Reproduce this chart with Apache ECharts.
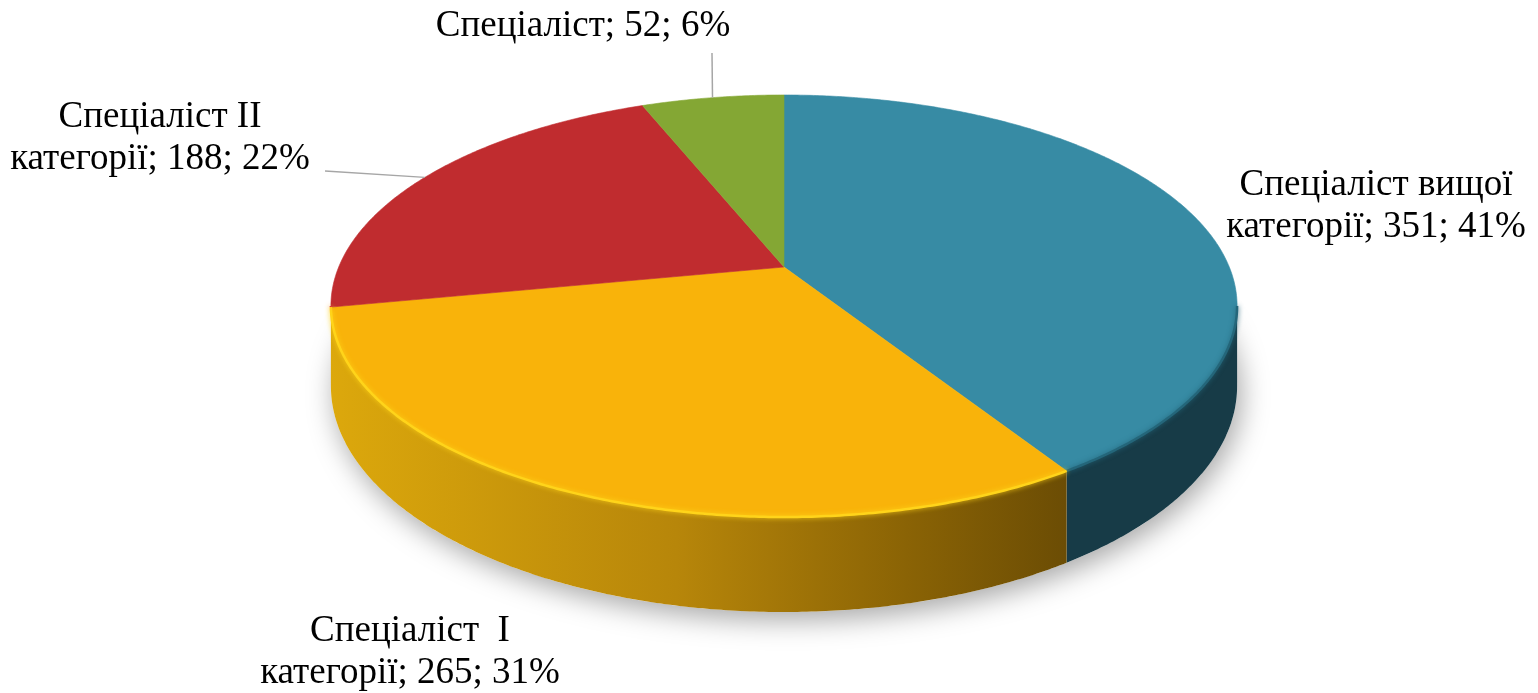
<!DOCTYPE html>
<html>
<head>
<meta charset="utf-8">
<script src="https://cdn.jsdelivr.net/npm/echarts@6/dist/echarts.min.js"></script>
<style>
  html, body { margin: 0; background: #fff; }
  #chart-container { width: 1538px; height: 693px; }
</style>
</head>
<body>
<div id="chart-container"></div>
<script>
// data
const categories = [
  'Спеціаліст вищої категорії',
  'Спеціаліст  I категорії',
  'Спеціаліст II категорії',
  'Спеціаліст'
];
const values = [351, 265, 188, 52];

// styles
const topColors = ['#378BA4', '#F9B30A', '#C02C2F', '#84A734'];
const rimColors = ['#24667A', '#FFD41A', '#D8393C', '#95BC3E'];
const sideFills = [
  '#173B47',
  {
    type: 'linear', x: 331, y: 0, x2: 1100, y2: 0, global: true,
    colorStops: [
      { offset: 0, color: '#DCA80C' },
      { offset: 0.45, color: '#B7860A' },
      { offset: 0.75, color: '#8A6305' },
      { offset: 1, color: '#654804' }
    ]
  },
  '#8E1F22',
  '#5F7A24'
];
// label centre + leader start (null = no leader)
const labelLayout = [
  { x: 1376, y: 206, lead: null },
  { x: 410, y: 652, lead: null },
  { x: 160, y: 138, lead: [325, 171] },
  { x: 583, y: 26, lead: [712, 53] }
];

// perspective pie geometry
const CX = 784, CY = 267, D = 5.41, KX = 2409, KY = 1102.6, KH = 419;
const VIS0 = Math.acos(-1 / D), VIS1 = 2 * Math.PI - VIS0;
function proj(phi, down) {
  const X = Math.sin(phi), Z = Math.cos(phi), d = D + Z;
  return [CX + KX * X / d, CY - KY * Z / d + (down ? KH / d : 0)];
}
function arc(a, b, down) {
  const pts = [];
  const n = Math.max(2, Math.ceil(Math.abs(b - a) / (Math.PI / 360)));
  for (let k = 0; k <= n; k++) pts.push(proj(a + (b - a) * k / n, down));
  return pts;
}

const total = values.reduce((s, v) => s + v, 0);
const starts = [];
values.reduce((acc, v) => { starts.push(acc); return acc + v; }, 0);

function renderSlice(params, api) {
  const i = params.dataIndex;
  const v = api.value(0);
  const a0 = starts[i] / total * 2 * Math.PI;
  const a1 = a0 + v / total * 2 * Math.PI;
  const children = [];

  if (i === 0) {
    // soft floor shadow
    children.push({
      type: 'polygon', z2: 0,
      shape: { points: arc(0, 2 * Math.PI, 1) },
      style: { fill: '#fff', shadowBlur: 28, shadowColor: 'rgba(0,0,0,0.35)', shadowOffsetX: 4, shadowOffsetY: 8 }
    });
  }

  const s = Math.max(a0, VIS0), e = Math.min(a1, VIS1);
  if (e > s) {
    const side = arc(s, e, 0).concat(arc(e, s, 1));
    children.push({ type: 'polygon', z2: 5, shape: { points: side }, style: { fill: sideFills[i] } });
  }

  children.push({
    type: 'polygon', z2: 10,
    shape: { points: [[CX, CY]].concat(arc(a0, a1, 0)) },
    style: { fill: topColors[i], stroke: topColors[i], lineWidth: 0.6 }
  });

  if (e > s) {
    children.push({
      type: 'polyline', z2: 11,
      shape: { points: arc(s, e, 0) },
      style: { stroke: rimColors[i], lineWidth: 2.5, fill: null, shadowBlur: 5, shadowColor: rimColors[i] }
    });
  }

  const pct = Math.round(v / total * 100);
  const lay = labelLayout[i];
  const text = (categories[i] + '; ' + v + '; ' + pct + '%').replace(' категорії', '\nкатегорії');
  children.push({
    type: 'text', z2: 20,
    style: {
      text, x: lay.x, y: lay.y, align: 'center', verticalAlign: 'middle',
      fontFamily: '"Liberation Serif", "Times New Roman", serif', fontSize: 37, lineHeight: 42, fill: '#000'
    }
  });
  if (lay.lead) {
    const mid = proj((a0 + a1) / 2, 0);
    children.push({
      type: 'line', z2: 15,
      shape: { x1: lay.lead[0], y1: lay.lead[1], x2: mid[0], y2: mid[1] },
      style: { stroke: '#A6A6A6', lineWidth: 1.5 }
    });
  }

  return { type: 'group', children };
}

const option = {
  animation: false,
  backgroundColor: '#fff',
  series: [
    {
      type: 'custom',
      coordinateSystem: 'none',
      renderItem: renderSlice,
      data: values.map((v, i) => ({ name: categories[i], value: [v] }))
    }
  ]
};

var myChart = echarts.init(document.getElementById('chart-container'));
myChart.setOption(option);
window.addEventListener('resize', myChart.resize);
</script>
</body>
</html>
